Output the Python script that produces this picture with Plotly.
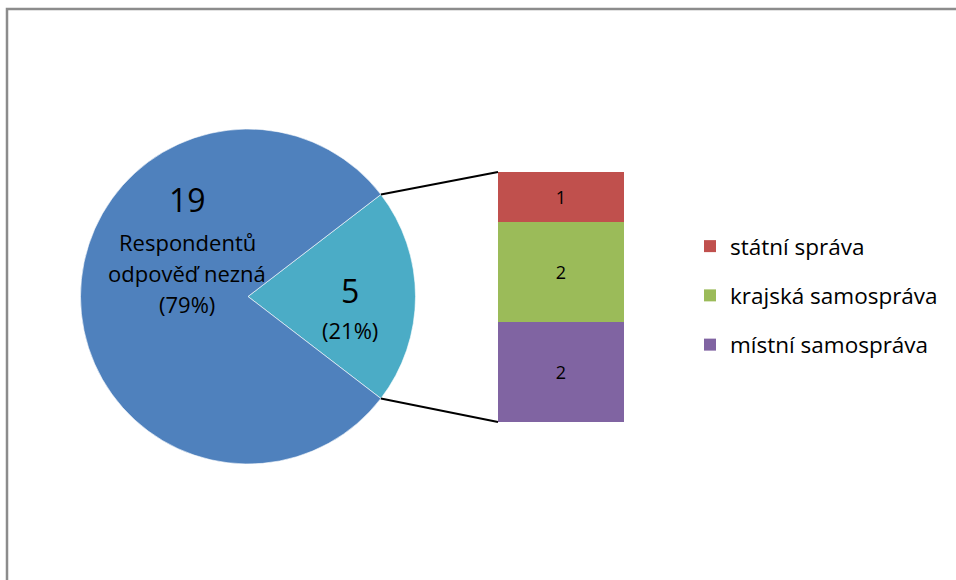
import math
import plotly.graph_objects as go

# ---- data ----
pie_labels = ["Respondentů odpověď nezná", "Odpověď známa"]
pie_values = [19, 5]
bar_categories = ["místní samospráva", "krajská samospráva", "státní správa"]  # bottom -> top
bar_values = [2, 2, 1]
bar_colors = ["#8064A2", "#9BBB59", "#C0504D"]
pie_colors = ["#4F81BD", "#4BACC6"]

W, H = 956, 580
FONT = "Open Sans"

# ---- layout geometry (pixels) ----
pie_cx, pie_cy, pie_r = 248, 296.5, 167.5
bar_x0, bar_x1, bar_top, bar_bot = 498, 624, 172, 422


def px(x):
    return x / W


def py(y):
    return 1 - y / H


total = sum(pie_values)
half_angle = 180.0 * pie_values[1] / total  # small slice centred at 3 o'clock

fig = go.Figure()

# small slice first so that the rotation places it at 3 o'clock
fig.add_trace(go.Pie(
    labels=[pie_labels[1], pie_labels[0]], values=[pie_values[1], pie_values[0]],
    sort=False, direction="clockwise", rotation=90 - half_angle,
    marker=dict(colors=[pie_colors[1], pie_colors[0]], line=dict(color="white", width=0.6)),
    textinfo="none", hoverinfo="label+value+percent", showlegend=False,
    domain=dict(x=[px(pie_cx - pie_r), px(pie_cx + pie_r)],
                y=[py(pie_cy + pie_r), py(pie_cy - pie_r)]),
))

n = len(bar_categories)
for i, (cat, val, col) in enumerate(zip(bar_categories, bar_values, bar_colors)):
    fig.add_trace(go.Bar(
        x=[0], y=[val], name=cat, marker=dict(color=col, line=dict(width=0)),
        width=1, text=[str(val)], textposition="inside", insidetextanchor="middle",
        textfont=dict(family=FONT, size=18, color="black"), legendgroup=cat,
        legendrank=n - i, hoverinfo="name+y",
    ))

fig.update_layout(
    width=W, height=H, margin=dict(l=0, r=0, t=0, b=0),
    paper_bgcolor="white", plot_bgcolor="white",
    barmode="stack", bargap=0,
    xaxis=dict(domain=[px(bar_x0), px(bar_x1)], range=[-0.5, 0.5], visible=False, fixedrange=True),
    yaxis=dict(domain=[py(bar_bot), py(bar_top)], range=[0, sum(bar_values)], visible=False, fixedrange=True),
    legend=dict(x=px(690), y=py(225), xanchor="left", yanchor="top",
                traceorder="grouped", tracegroupgap=17,
                font=dict(family=FONT, size=22.5, color="black"),
                bgcolor="rgba(0,0,0,0)"),
    font=dict(family=FONT),
)

# connector lines from pie slice edges to bar
dx = pie_r * math.cos(math.radians(half_angle))
dy = pie_r * math.sin(math.radians(half_angle))
fig.add_shape(type="line", xref="paper", yref="paper",
              x0=px(pie_cx + dx), y0=py(pie_cy - dy), x1=px(bar_x0), y1=py(bar_top),
              line=dict(color="black", width=2))
fig.add_shape(type="line", xref="paper", yref="paper",
              x0=px(pie_cx + dx), y0=py(pie_cy + dy), x1=px(bar_x0), y1=py(bar_bot),
              line=dict(color="black", width=2))

# chart border (left + top visible)
fig.add_shape(type="rect", xref="paper", yref="paper",
              x0=px(7), y0=-0.05, x1=1.05, y1=py(9),
              line=dict(color="#8c8c8c", width=2.5), layer="above")

# pie labels
big_pct = round(100 * pie_values[0] / total)
small_pct = round(100 * pie_values[1] / total)
name_words = pie_labels[0].split(" ")


def label(x, y, text, size):
    fig.add_annotation(x=px(x), y=py(y), xref="paper", yref="paper", text=text,
                       xanchor="center", yanchor="middle", showarrow=False,
                       font=dict(family=FONT, size=size, color="black"))


label(187, 199, str(pie_values[0]), 32)
lines = [name_words[0], " ".join(name_words[1:]), f"({big_pct}%)"]
for i, t in enumerate(lines):
    label(187, 242 + 31 * i, t, 22)
label(350, 291, str(pie_values[1]), 32)
label(350, 330, f"({small_pct}%)", 22)

fig.write_html("out.html")
